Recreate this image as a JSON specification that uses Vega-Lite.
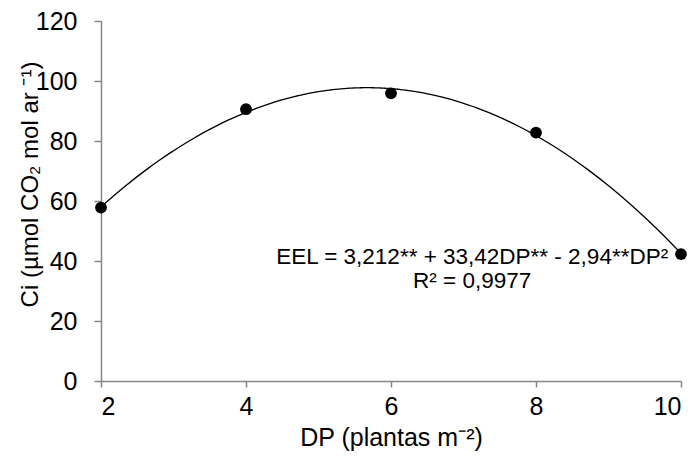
{
  "$schema": "https://vega.github.io/schema/vega-lite/v6.json",
  "width": 580,
  "height": 360,
  "autosize": {"type": "none"},
  "padding": {"left": 101, "top": 21, "right": 16, "bottom": 80},
  "background": "white",
  "config": {
    "view": {"stroke": null},
    "font": "Liberation Sans",
    "axis": {
      "grid": false,
      "domainColor": "#868686",
      "tickColor": "#868686",
      "domainWidth": 1.5,
      "tickWidth": 1.5,
      "labelColor": "#000000",
      "titleColor": "#000000",
      "labelFont": "Liberation Sans",
      "titleFont": "Liberation Sans",
      "labelFontSize": 25,
      "titleFontSize": 22,
      "titleFontWeight": "normal"
    }
  },
  "datasets": {
    "pts": [
      {"DP": 2, "Ci": 57.8},
      {"DP": 4, "Ci": 90.6},
      {"DP": 6, "Ci": 95.9},
      {"DP": 8, "Ci": 82.8},
      {"DP": 10, "Ci": 42.3}
    ],
    "notes": [
      {"DP": 7.12, "Ci": 39, "label": "EEL = 3,212** + 33,42DP** - 2,94**DP²"},
      {"DP": 7.12, "Ci": 31, "label": "R² = 0,9977"}
    ]
  },
  "layer": [
    {
      "data": {"name": "pts"},
      "transform": [
        {"regression": "Ci", "on": "DP", "method": "poly", "order": 2, "extent": [2, 10]}
      ],
      "mark": {"type": "line", "color": "#000000", "strokeWidth": 1.3, "interpolate": "monotone"},
      "encoding": {
        "x": {
          "field": "DP", "type": "quantitative",
          "scale": {"domain": [2, 10], "nice": false, "zero": false},
          "axis": {
            "values": [2, 4, 6, 8, 10],
            "format": "d",
            "title": "DP (plantas m⁻²)",
            "titleFontSize": 25,
            "tickSize": 6,
            "labelPadding": 7,
            "titleY": 64,
            "titleBaseline": "alphabetic"
          }
        },
        "y": {
          "field": "Ci", "type": "quantitative",
          "scale": {"domain": [0, 120], "nice": false},
          "axis": {
            "values": [0, 20, 40, 60, 80, 100, 120],
            "title": "Ci (µmol CO₂ mol ar ⁻¹)",
            "titleFontSize": 24,
            "tickSize": 7,
            "labelPadding": 17,
            "titleX": -64,
            "titleY": 163,
            "titleBaseline": "alphabetic"
          }
        }
      }
    },
    {
      "data": {"name": "pts"},
      "mark": {"type": "point", "filled": true, "color": "#000000", "opacity": 1, "size": 140},
      "encoding": {
        "x": {"field": "DP", "type": "quantitative"},
        "y": {"field": "Ci", "type": "quantitative"}
      }
    },
    {
      "data": {"name": "notes"},
      "mark": {"type": "text", "font": "Liberation Sans", "fontSize": 22.5, "color": "#000000", "align": "center", "baseline": "alphabetic"},
      "encoding": {
        "x": {"field": "DP", "type": "quantitative"},
        "y": {"field": "Ci", "type": "quantitative"},
        "text": {"field": "label"}
      }
    }
  ]
}
